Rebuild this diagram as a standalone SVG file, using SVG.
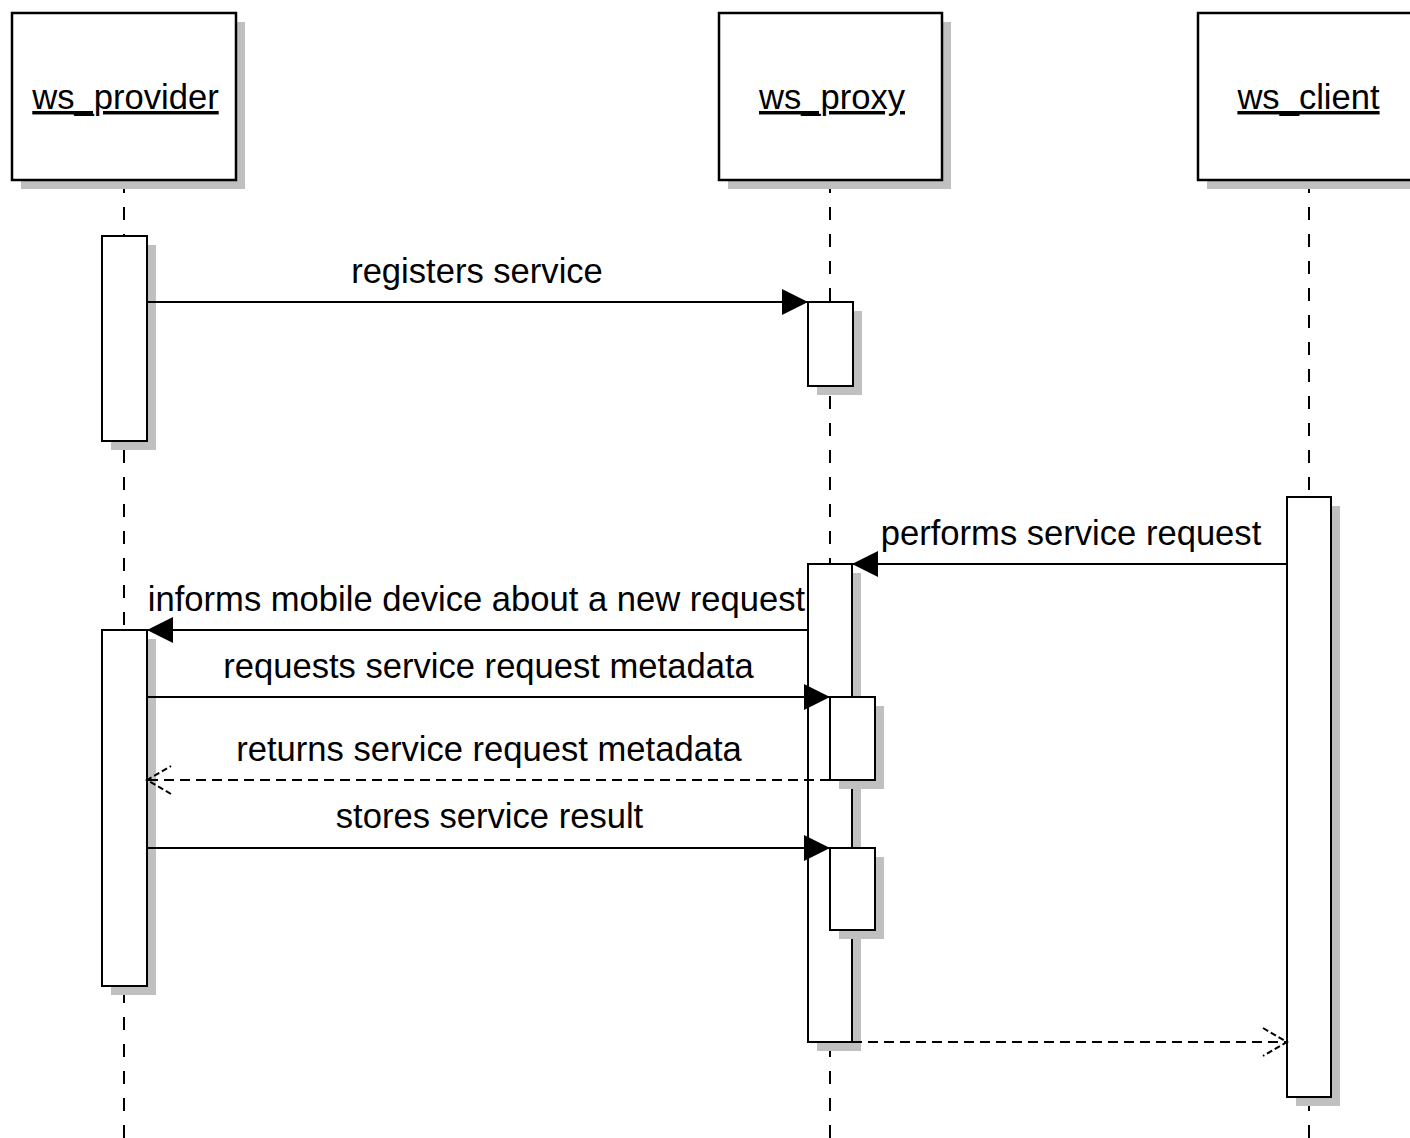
<svg xmlns="http://www.w3.org/2000/svg" width="1410" height="1138" viewBox="0 0 1410 1138">
<style>
.bg{fill:#ffffff}
.head{fill:#ffffff;stroke:#000000;stroke-width:2.5}
.act{fill:#ffffff;stroke:#000000;stroke-width:2}
.shadow{fill:#c0c0c0}
.life{stroke:#000000;stroke-width:2;stroke-dasharray:13 14;fill:none}
.msg{stroke:#000000;stroke-width:2;fill:none}
.ret{stroke:#000000;stroke-width:2;fill:none;stroke-dasharray:10 6}
.lbl{font-family:"Liberation Sans",Arial,sans-serif;font-size:34.6px;fill:#000000;text-anchor:middle}
.title{font-family:"Liberation Sans",Arial,sans-serif;font-size:34.6px;fill:#000000;text-anchor:middle;text-decoration:underline}
</style>
<defs>
<marker id="filled" markerUnits="userSpaceOnUse" markerWidth="28" markerHeight="28" refX="26" refY="13" orient="auto" viewBox="0 0 28 28">
<path d="M0,0 L26,13 L0,26 Z" fill="#000000"/>
</marker>
<marker id="open" markerUnits="userSpaceOnUse" markerWidth="30" markerHeight="32" refX="25" refY="15" orient="auto" viewBox="0 0 30 32">
<path d="M1,1 L25,15 L1,29" fill="none" stroke="#000000" stroke-width="2" stroke-dasharray="6 3"/>
</marker>
</defs>
<rect class="bg" x="0" y="0" width="1410" height="1138"/>

<g id="ws_provider">
<line class="life" x1="124" y1="180" x2="124" y2="1138"/>
<rect class="shadow" x="21" y="22" width="224" height="167"/>
<rect class="head" x="12" y="13" width="224" height="167"/>
<text class="title" x="125.5" y="109">ws_provider</text>
</g>
<g id="ws_proxy">
<line class="life" x1="830" y1="180" x2="830" y2="1138"/>
<rect class="shadow" x="728" y="22" width="223" height="167"/>
<rect class="head" x="719" y="13" width="223" height="167"/>
<text class="title" x="832" y="109">ws_proxy</text>
</g>
<g id="ws_client">
<line class="life" x1="1309" y1="180" x2="1309" y2="1138"/>
<rect class="shadow" x="1207" y="22" width="224" height="167"/>
<rect class="head" x="1198" y="13" width="224" height="167"/>
<text class="title" x="1308.5" y="109">ws_client</text>
</g>

<g id="provider_act1">
<rect class="shadow" x="111" y="245" width="45" height="205"/>
<rect class="act" x="102" y="236" width="45" height="205"/>
</g>
<g id="proxy_act1">
<rect class="shadow" x="817" y="311" width="45" height="84"/>
<rect class="act" x="808" y="302" width="45" height="84"/>
</g>
<g id="client_act">
<rect class="shadow" x="1296" y="506" width="44" height="600"/>
<rect class="act" x="1287" y="497" width="44" height="600"/>
</g>
<g id="proxy_act2">
<rect class="shadow" x="817" y="573" width="44" height="478"/>
<rect class="act" x="808" y="564" width="44" height="478"/>
</g>
<g id="provider_act2">
<rect class="shadow" x="111" y="639" width="45" height="356"/>
<rect class="act" x="102" y="630" width="45" height="356"/>
</g>
<g id="proxy_nested1">
<rect class="shadow" x="839" y="706" width="45" height="83"/>
<rect class="act" x="830" y="697" width="45" height="83"/>
</g>
<g id="proxy_nested2">
<rect class="shadow" x="839" y="857" width="45" height="82"/>
<rect class="act" x="830" y="848" width="45" height="82"/>
</g>

<g id="connectors">
<line class="msg" x1="147" y1="302" x2="808" y2="302" marker-end="url(#filled)"/>
<text class="lbl" x="477" y="283">registers service</text>
<line class="msg" x1="1287" y1="564" x2="852" y2="564" marker-end="url(#filled)"/>
<text class="lbl" x="1071" y="545">performs service request</text>
<line class="msg" x1="808" y1="630" x2="147" y2="630" marker-end="url(#filled)"/>
<text class="lbl" x="476.5" y="611">informs mobile device about a new request</text>
<line class="msg" x1="147" y1="697" x2="830" y2="697" marker-end="url(#filled)"/>
<text class="lbl" x="488.5" y="678">requests service request metadata</text>
<line class="ret" x1="830" y1="780" x2="147" y2="780" marker-end="url(#open)"/>
<text class="lbl" x="489" y="761">returns service request metadata</text>
<line class="msg" x1="147" y1="848" x2="830" y2="848" marker-end="url(#filled)"/>
<text class="lbl" x="489.5" y="828">stores service result</text>
<line class="ret" x1="852" y1="1042" x2="1287" y2="1042" marker-end="url(#open)"/>
</g>
</svg>
